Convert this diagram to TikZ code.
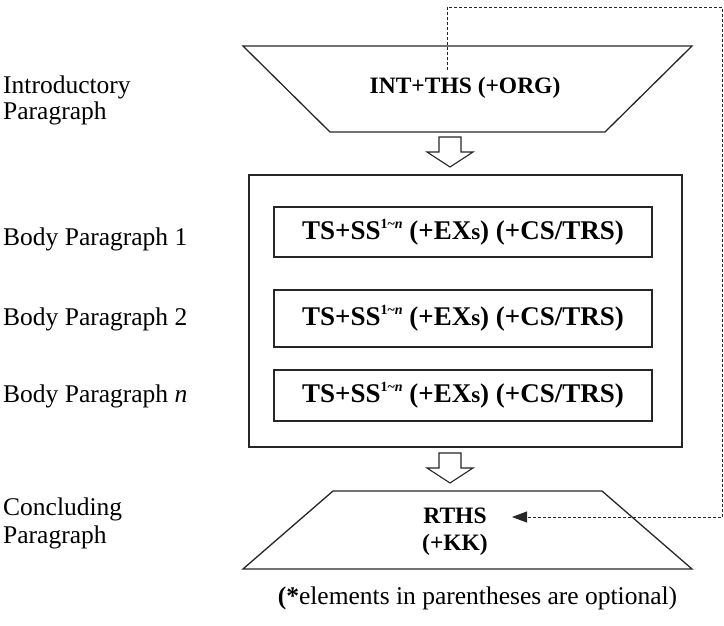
\documentclass[tikz,border=0pt]{standalone}
\usepackage{fontspec}
\setmainfont{Liberation Serif}
\usetikzlibrary{arrows.meta}
\newcommand{\smallsup}[1]{\raisebox{0.42em}{\fontsize{14}{14}\selectfont #1}}
\newcommand{\textsmaller}[1]{{\fontsize{23}{23}\selectfont #1}}
\newcommand{\tsline}{TS+SS\smallsup{1\textasciitilde\textit{n}} (+EX\textsmaller{s}) (+CS/TRS)}
\begin{document}
\begin{tikzpicture}[x=1pt,y=-1pt,
  outline/.style={draw=black!85, line width=1.3pt},
  sidelabel/.style={anchor=base west, inner sep=0pt, font=\fontsize{25.5}{28}\selectfont},
  inbox/.style={outline, minimum width=378pt, inner sep=0pt,
    font=\bfseries\fontsize{27}{29}\selectfont},
  boldtext/.style={anchor=base, inner sep=0pt, font=\bfseries\fontsize{23.5}{26}\selectfont},
  hollow/.style={draw=black!85, line width=1.1pt, fill=white, line join=miter},
  feedback/.style={draw=black!85, line width=0.9pt, dash pattern=on 3pt off 2pt,
    -{Triangle[length=15pt,width=11pt]}}]
\useasboundingbox (0,0) rectangle (724,625);

% side labels
\node[sidelabel] (introA) at (3,93) {Introductory};
\node[sidelabel] (introB) at (3,119.5) {Paragraph};
\node[sidelabel] (bodyA) at (3,245) {Body Paragraph 1};
\node[sidelabel] (bodyB) at (3,325) {Body Paragraph 2};
\node[sidelabel] (bodyN) at (3,402) {Body Paragraph \textit{n}};
\node[sidelabel] (concA) at (3,515) {Concluding};
\node[sidelabel] (concB) at (3,543) {Paragraph};

% introductory paragraph: inverted trapezoid
\draw[outline] (243,46) -- (692,46) -- (605,132) -- (330,132) -- cycle;
\node[boldtext] (intro) at (465,93) {INT+THS (+ORG)};

% body paragraphs
\node[outline, minimum width=433pt, minimum height=272pt, inner sep=0pt] (body) at (465.5,311) {};
\node[inbox, minimum height=50pt] (b1) at (463,232) {\tsline};
\node[inbox, minimum height=57pt] (b2) at (463,318.5) {\tsline};
\node[inbox, minimum height=51pt] (b3) at (463,395.5) {\tsline};

% concluding paragraph: trapezoid
\draw[outline] (333,491) -- (602,491) -- (692,569) -- (243,569) -- cycle;
\node[boldtext] (rths) at (455,523) {RTHS};
\node[boldtext] (kk) at (455,550) {(+KK)};

% hollow flow arrows
\foreach \y in {137,453}{
  \draw[hollow] (439,\y) -- (461,\y) -- (461,\y+15) -- (473,\y+15) -- (450,\y+30)
    -- (427,\y+15) -- (439,\y+15) -- cycle;
}

% dashed feedback from the thesis to the restated thesis
\coordinate (fbstart) at (447,70);
\coordinate (fbend) at (512,517);
\draw[feedback] (fbstart) -- (447,7) -- (722.5,7) -- (722.5,517) -- (fbend);

% footnote
\node[anchor=base, inner sep=0pt, font=\fontsize{25.5}{28}\selectfont] (note) at (477.5,604)
  {\textbf{(*}elements in parentheses are optional)};
\end{tikzpicture}
\end{document}
